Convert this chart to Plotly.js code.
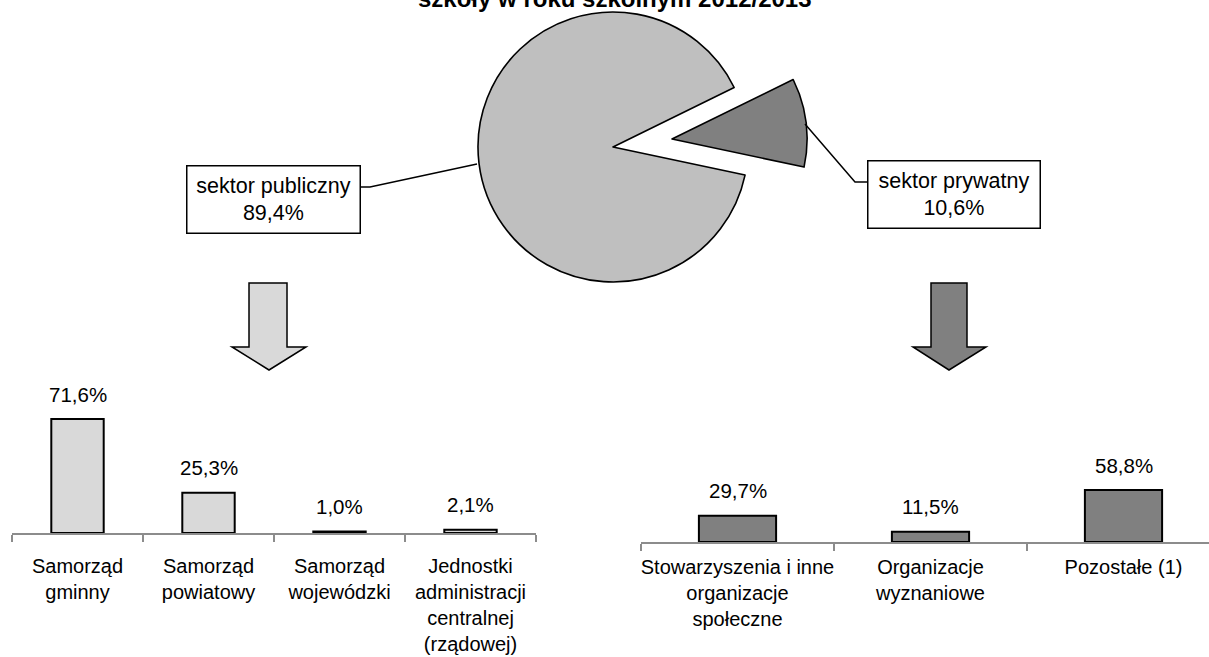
<!DOCTYPE html>
<html>
<head>
<meta charset="utf-8">
<script src="https://cdn.plot.ly/plotly-3.0.1.min.js"></script>
<style>
html,body{margin:0;padding:0;background:#fff;}
#chart{width:1209px;height:657px;}
</style>
</head>
<body>
<div id="chart"></div>
<script>
// ---- data ----
var titleText = 'szkoły w roku szkolnym 2012/2013';
var pieLabels = ['sektor publiczny', 'sektor prywatny'];
var pieValues = [89.4, 10.6];
var publicCategories = ['Samorząd<br>gminny', 'Samorząd<br>powiatowy', 'Samorząd<br>wojewódzki', 'Jednostki<br>administracji<br>centralnej<br>(rządowej)'];
var publicValues = [71.6, 25.3, 1.0, 2.1];
var privateCategories = ['Stowarzyszenia i inne<br>organizacje<br>społeczne', 'Organizacje<br>wyznaniowe', 'Pozostałe (1)'];
var privateValues = [29.7, 11.5, 58.8];

// ---- helpers (pixel -> paper) ----
var W = 1209, H = 657;
function px(x){ return x / W; }
function py(y){ return 1 - y / H; }
function path(pts){
  return 'M ' + pts.map(function(p){ return px(p[0]).toFixed(5) + ',' + py(p[1]).toFixed(5); }).join(' L ');
}
function fmt(v){ return v.toFixed(1).replace('.', ',') + '%'; }

var FONT = 'Liberation Sans, Arial, sans-serif';
var cPublic = '#bfbfbf', cPrivate = '#808080', cPublicBar = '#d9d9d9';

// pie geometry
var pieR = 135, c1 = [613, 147], c2 = [672, 139];
function dom(c){ return {x:[px(c[0]-pieR), px(c[0]+pieR)], y:[py(c[1]+pieR), py(c[1]-pieR)]}; }

var traces = [
  {type:'pie', labels:pieLabels, values:pieValues, sort:false, direction:'clockwise', rotation:102,
   domain:dom(c1), textinfo:'none', hoverinfo:'none', showlegend:false,
   marker:{colors:[cPublic,'rgba(0,0,0,0)'], line:{color:'#000', width:[1.6,0]}}},
  {type:'pie', labels:pieLabels, values:pieValues, sort:false, direction:'clockwise', rotation:102,
   domain:dom(c2), textinfo:'none', hoverinfo:'none', showlegend:false,
   marker:{colors:['rgba(0,0,0,0)',cPrivate], line:{color:'#000', width:[0,1.6]}}},
  {type:'bar', x:publicCategories, y:publicValues, xaxis:'x', yaxis:'y',
   marker:{color:cPublicBar, line:{color:'#000', width:2}}, hoverinfo:'none', showlegend:false},
  {type:'bar', x:privateCategories, y:privateValues, xaxis:'x2', yaxis:'y2',
   marker:{color:cPrivate, line:{color:'#000', width:2}}, hoverinfo:'none', showlegend:false}
];

var axisX = {type:'category', showline:true, linecolor:'#8c8c8c', linewidth:1.5, ticks:'outside',
  tickcolor:'#8c8c8c', ticklen:7, tickwidth:1.5, tickson:'boundaries', showgrid:false, zeroline:false,
  tickangle:0, tickfont:{family:FONT, size:20, color:'#000'}, fixedrange:true};

var annotations = [
  {text:'<b>' + titleText + '</b>', xref:'paper', yref:'paper', x:px(615), y:py(-1), xanchor:'center', yanchor:'middle',
   showarrow:false, font:{family:FONT, size:24, color:'#000'}},
  {text:pieLabels[0] + '<br>' + fmt(pieValues[0]), xref:'paper', yref:'paper', x:px(273.5), y:py(199.5),
   xanchor:'center', yanchor:'middle', showarrow:false, bordercolor:'#000', borderwidth:1.5, borderpad:0,
   bgcolor:'#fff', width:172, height:66, font:{family:FONT, size:21.5, color:'#000'}},
  {text:pieLabels[1] + '<br>' + fmt(pieValues[1]), xref:'paper', yref:'paper', x:px(954), y:py(194),
   xanchor:'center', yanchor:'middle', showarrow:false, bordercolor:'#000', borderwidth:1.5, borderpad:0,
   bgcolor:'#fff', width:171, height:66, font:{family:FONT, size:21.5, color:'#000'}}
];
publicCategories.forEach(function(c, i){
  annotations.push({text:fmt(publicValues[i]), xref:'x', yref:'y', x:c, y:publicValues[i], yshift:25,
    xanchor:'center', yanchor:'middle', showarrow:false, font:{family:FONT, size:20.5, color:'#000'}});
});
privateCategories.forEach(function(c, i){
  annotations.push({text:fmt(privateValues[i]), xref:'x2', yref:'y2', x:c, y:privateValues[i], yshift:25,
    xanchor:'center', yanchor:'middle', showarrow:false, font:{family:FONT, size:20.5, color:'#000'}});
});

var layout = {
  width:W, height:H, margin:{l:0,r:0,t:0,b:0}, paper_bgcolor:'#fff', plot_bgcolor:'rgba(0,0,0,0)',
  bargap:0.6, showlegend:false, font:{family:FONT, color:'#000'},
  xaxis:Object.assign({}, axisX, {domain:[px(12), px(536)], range:[-0.5, 3.5], anchor:'y', ticklabelstandoff:14}),
  yaxis:{domain:[py(533), py(533-159.2)], range:[0,100], visible:false, anchor:'x'},
  xaxis2:Object.assign({}, axisX, {domain:[px(641), 1], range:[-0.5, 2.443], anchor:'y2', ticklabelstandoff:6}),
  yaxis2:{domain:[py(542), py(542-88.4)], range:[0,100], visible:false, anchor:'x2'},
  annotations:annotations,
  shapes:[
    {type:'path', xref:'paper', yref:'paper', path:path([[361,187],[370,187],[477,164]]), line:{color:'#000', width:1.5}},
    {type:'path', xref:'paper', yref:'paper', path:path([[805,124],[855,182],[867,182]]), line:{color:'#000', width:1.5}},
    {type:'path', xref:'paper', yref:'paper', path:path([[249,283],[287,283],[287,347],[306,347],[269,370],[232,347],[249,347]]) + ' Z',
     fillcolor:cPublicBar, line:{color:'#000', width:1.5}},
    {type:'path', xref:'paper', yref:'paper', path:path([[931,283],[967,283],[967,347],[986,347],[949,370],[913,347],[931,347]]) + ' Z',
     fillcolor:cPrivate, line:{color:'#000', width:1.5}}
  ]
};

Plotly.newPlot('chart', traces, layout, {displayModeBar:false, staticPlot:true});
</script>
</body>
</html>
